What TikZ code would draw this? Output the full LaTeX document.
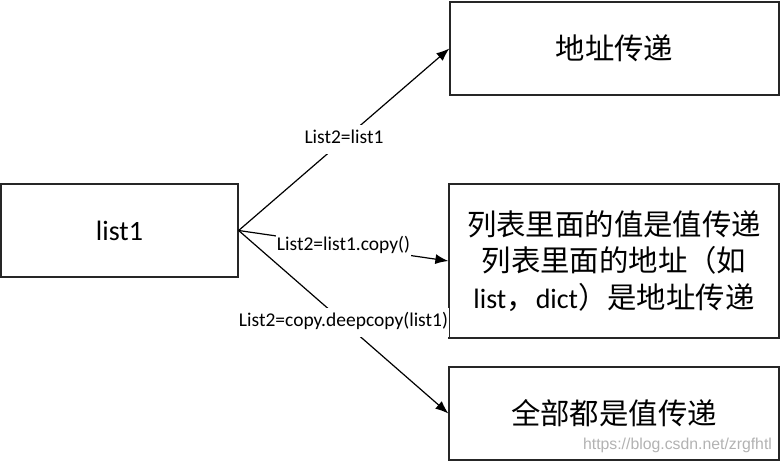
\documentclass[tikz,border=0pt]{standalone}
\usepackage{fontspec}
\setmainfont{Carlito}
\newfontfamily\cjk{Noto Sans CJK SC}
\newfontfamily\wmfont{Liberation Sans}
\usetikzlibrary{arrows.meta}
\begin{document}
\begin{tikzpicture}[x=1pt,y=-1pt,
  box/.style={draw=black!85, line width=1.3pt, inner sep=0pt, align=center,
    font=\fontsize{28}{36.5}\selectfont},
  conn/.style={line width=1.2pt, -{Latex[length=13pt,width=10pt]}},
  lbl/.style={fill=white, inner xsep=1pt, inner ysep=5pt, text height=14pt, text depth=5pt,
    font=\fontsize{19.5}{20}\selectfont}]
\useasboundingbox (0,0) rectangle (781,462);
\def\C#1{{\cjk\fontsize{29.4}{36.5}\selectfont #1}}
\node[box, minimum width=237pt, minimum height=93pt] (l) at (119.5,230.5) {list1};
\node[box, minimum width=329pt, minimum height=93pt] (b1) at (614.5,48.5) {\C{地址传递}};
\node[box, minimum width=330pt, minimum height=154pt] (b2) at (614,261)
  {\C{列表里面的值是值传递}\\ \C{列表里面的地址（如}\\ list\C{，}dict\C{）是地址传递}};
\node[box, minimum width=330pt, minimum height=93pt] (b3) at (614,413.5) {\C{全部都是值传递}};
\draw[conn] (l.east) -- node[lbl] (t1) {List2=list1} (b1.west);
\draw[conn] (l.east) -- node[lbl] (t2) {List2=list1.copy()} (b2.west);
\draw[conn] (l.east) -- node[lbl] (t3) {List2=copy.deepcopy(list1)} (b3.west);
\node[anchor=base, text=black!30, inner sep=0pt, font=\wmfont\fontsize{15.8}{16}\selectfont] (wm) at (677.5,449) {https://blog.csdn.net/zrgfhtl};
\end{tikzpicture}
\end{document}
